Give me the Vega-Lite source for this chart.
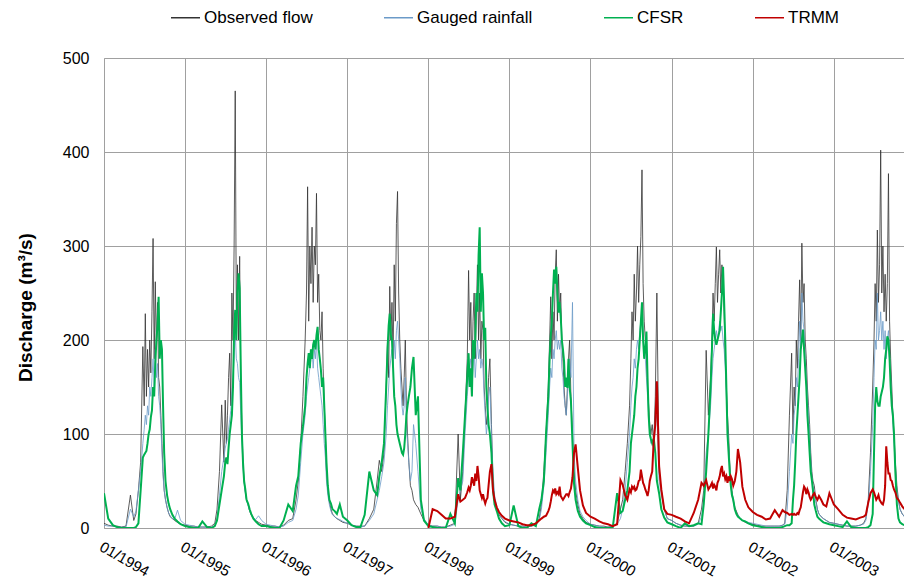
{
"$schema": "https://vega.github.io/schema/vega-lite/v6.json",
"width": 800, "height": 470,
"autosize": {"type": "none"},
"padding": {"left": 104, "top": 58, "right": 0, "bottom": 55},
"background": "white",
"config": {"view": {"stroke": null}, "font": "Liberation Sans"},
"data": {"values": [
{"d":"1994-01-01","o":5,"g":3,"c":37,"t":null},{"d":"1994-01-20","o":3,"g":2,"c":10,"t":null},{"d":"1994-02-10","o":2,"g":2,"c":3,"t":null},{"d":"1994-03-01","o":2,"g":1,"c":1,"t":null},{"d":"1994-03-20","o":1,"g":1,"c":0,"t":null},{"d":"1994-04-10","o":2,"g":1,"c":0,"t":null},{"d":"1994-04-30","o":35,"g":20,"c":0,"t":null},{"d":"1994-05-15","o":8,"g":12,"c":0,"t":null},{"d":"1994-05-25","o":15,"g":18,"c":1,"t":null},{"d":"1994-06-05","o":40,"g":40,"c":5,"t":null},{"d":"1994-06-15","o":70,"g":60,"c":40,"t":null},{"d":"1994-06-25","o":193,"g":90,"c":75,"t":null},{"d":"1994-07-01","o":130,"g":105,"c":78,"t":null},{"d":"1994-07-06","o":228,"g":120,"c":80,"t":null},{"d":"1994-07-11","o":140,"g":110,"c":82,"t":null},{"d":"1994-07-16","o":190,"g":130,"c":90,"t":null},{"d":"1994-07-21","o":150,"g":120,"c":100,"t":null},{"d":"1994-07-26","o":200,"g":150,"c":105,"t":null},{"d":"1994-07-31","o":165,"g":140,"c":118,"t":null},{"d":"1994-08-05","o":230,"g":160,"c":125,"t":null},{"d":"1994-08-10","o":308,"g":180,"c":150,"t":null},{"d":"1994-08-15","o":180,"g":150,"c":140,"t":null},{"d":"1994-08-20","o":262,"g":190,"c":175,"t":null},{"d":"1994-08-25","o":190,"g":160,"c":200,"t":null},{"d":"1994-08-30","o":240,"g":175,"c":215,"t":null},{"d":"1994-09-04","o":160,"g":140,"c":246,"t":null},{"d":"1994-09-09","o":150,"g":130,"c":180,"t":null},{"d":"1994-09-14","o":120,"g":110,"c":200,"t":null},{"d":"1994-09-19","o":90,"g":80,"c":190,"t":null},{"d":"1994-09-24","o":60,"g":55,"c":130,"t":null},{"d":"1994-09-29","o":40,"g":40,"c":80,"t":null},{"d":"1994-10-05","o":30,"g":30,"c":50,"t":null},{"d":"1994-10-12","o":22,"g":22,"c":35,"t":null},{"d":"1994-10-19","o":16,"g":16,"c":26,"t":null},{"d":"1994-10-26","o":12,"g":13,"c":20,"t":null},{"d":"1994-11-05","o":10,"g":10,"c":14,"t":null},{"d":"1994-11-15","o":8,"g":9,"c":10,"t":null},{"d":"1994-11-28","o":6,"g":19,"c":7,"t":null},{"d":"1994-12-12","o":4,"g":8,"c":4,"t":null},
{"d":"1995-01-01","o":3,"g":4,"c":2,"t":null},{"d":"1995-01-20","o":2,"g":3,"c":1,"t":null},{"d":"1995-02-10","o":2,"g":2,"c":0,"t":null},{"d":"1995-03-01","o":1,"g":1,"c":0,"t":null},{"d":"1995-03-20","o":1,"g":1,"c":7,"t":null},{"d":"1995-04-10","o":1,"g":1,"c":1,"t":null},{"d":"1995-04-30","o":2,"g":1,"c":0,"t":null},{"d":"1995-05-15","o":5,"g":3,"c":2,"t":null},{"d":"1995-05-25","o":20,"g":10,"c":8,"t":null},{"d":"1995-06-05","o":60,"g":35,"c":25,"t":null},{"d":"1995-06-15","o":131,"g":60,"c":40,"t":null},{"d":"1995-06-25","o":70,"g":75,"c":55,"t":null},{"d":"1995-07-01","o":136,"g":85,"c":70,"t":null},{"d":"1995-07-06","o":90,"g":90,"c":75,"t":null},{"d":"1995-07-11","o":120,"g":95,"c":68,"t":null},{"d":"1995-07-16","o":160,"g":105,"c":85,"t":null},{"d":"1995-07-21","o":186,"g":115,"c":100,"t":null},{"d":"1995-07-26","o":130,"g":125,"c":110,"t":null},{"d":"1995-07-31","o":250,"g":145,"c":120,"t":null},{"d":"1995-08-05","o":200,"g":160,"c":150,"t":null},{"d":"1995-08-10","o":300,"g":180,"c":210,"t":null},{"d":"1995-08-15","o":465,"g":210,"c":232,"t":null},{"d":"1995-08-20","o":220,"g":180,"c":200,"t":null},{"d":"1995-08-25","o":280,"g":175,"c":250,"t":null},{"d":"1995-08-30","o":200,"g":160,"c":271,"t":null},{"d":"1995-09-04","o":289,"g":155,"c":255,"t":null},{"d":"1995-09-09","o":150,"g":120,"c":170,"t":null},{"d":"1995-09-14","o":110,"g":95,"c":100,"t":null},{"d":"1995-09-19","o":70,"g":65,"c":70,"t":null},{"d":"1995-09-24","o":50,"g":48,"c":50,"t":null},{"d":"1995-09-29","o":40,"g":38,"c":42,"t":null},{"d":"1995-10-05","o":30,"g":30,"c":30,"t":null},{"d":"1995-10-12","o":25,"g":24,"c":26,"t":null},{"d":"1995-10-19","o":18,"g":18,"c":20,"t":null},{"d":"1995-10-26","o":14,"g":15,"c":15,"t":null},{"d":"1995-11-05","o":10,"g":11,"c":10,"t":null},{"d":"1995-11-15","o":8,"g":9,"c":7,"t":null},{"d":"1995-11-28","o":6,"g":13,"c":4,"t":null},{"d":"1995-12-12","o":4,"g":8,"c":2,"t":null},
{"d":"1996-01-01","o":3,"g":4,"c":2,"t":null},{"d":"1996-01-20","o":2,"g":3,"c":1,"t":null},{"d":"1996-02-10","o":2,"g":2,"c":0,"t":null},{"d":"1996-03-01","o":1,"g":1,"c":0,"t":null},{"d":"1996-03-20","o":3,"g":2,"c":8,"t":null},{"d":"1996-04-10","o":8,"g":6,"c":25,"t":null},{"d":"1996-04-30","o":10,"g":8,"c":18,"t":null},{"d":"1996-05-15","o":30,"g":20,"c":45,"t":null},{"d":"1996-05-25","o":50,"g":35,"c":55,"t":null},{"d":"1996-06-05","o":90,"g":70,"c":90,"t":null},{"d":"1996-06-15","o":140,"g":100,"c":108,"t":null},{"d":"1996-06-25","o":200,"g":120,"c":130,"t":null},{"d":"1996-07-01","o":250,"g":140,"c":160,"t":null},{"d":"1996-07-06","o":363,"g":150,"c":175,"t":null},{"d":"1996-07-11","o":220,"g":160,"c":186,"t":null},{"d":"1996-07-16","o":300,"g":170,"c":170,"t":null},{"d":"1996-07-21","o":260,"g":180,"c":190,"t":null},{"d":"1996-07-26","o":320,"g":190,"c":180,"t":null},{"d":"1996-07-31","o":240,"g":170,"c":195,"t":null},{"d":"1996-08-05","o":300,"g":190,"c":200,"t":null},{"d":"1996-08-10","o":280,"g":180,"c":190,"t":null},{"d":"1996-08-15","o":356,"g":200,"c":205,"t":null},{"d":"1996-08-20","o":240,"g":170,"c":214,"t":null},{"d":"1996-08-25","o":270,"g":160,"c":190,"t":null},{"d":"1996-08-30","o":210,"g":150,"c":180,"t":null},{"d":"1996-09-04","o":200,"g":140,"c":168,"t":null},{"d":"1996-09-09","o":230,"g":130,"c":150,"t":null},{"d":"1996-09-14","o":170,"g":110,"c":160,"t":null},{"d":"1996-09-19","o":130,"g":90,"c":130,"t":null},{"d":"1996-09-24","o":100,"g":75,"c":100,"t":null},{"d":"1996-09-29","o":60,"g":50,"c":70,"t":null},{"d":"1996-10-05","o":40,"g":35,"c":45,"t":null},{"d":"1996-10-12","o":28,"g":25,"c":30,"t":null},{"d":"1996-10-19","o":20,"g":18,"c":26,"t":null},{"d":"1996-10-26","o":15,"g":14,"c":20,"t":null},{"d":"1996-11-05","o":12,"g":12,"c":18,"t":null},{"d":"1996-11-15","o":10,"g":10,"c":15,"t":null},{"d":"1996-11-28","o":8,"g":9,"c":25,"t":null},{"d":"1996-12-12","o":6,"g":7,"c":12,"t":null},
{"d":"1997-01-01","o":5,"g":5,"c":8,"t":null},{"d":"1997-01-20","o":3,"g":3,"c":3,"t":null},{"d":"1997-02-10","o":2,"g":2,"c":1,"t":null},{"d":"1997-03-01","o":2,"g":1,"c":1,"t":null},{"d":"1997-03-20","o":2,"g":2,"c":14,"t":null},{"d":"1997-04-10","o":10,"g":8,"c":60,"t":null},{"d":"1997-04-30","o":20,"g":15,"c":40,"t":null},{"d":"1997-05-15","o":50,"g":30,"c":35,"t":null},{"d":"1997-05-25","o":72,"g":40,"c":55,"t":null},{"d":"1997-06-05","o":60,"g":55,"c":70,"t":null},{"d":"1997-06-15","o":80,"g":70,"c":90,"t":null},{"d":"1997-06-25","o":150,"g":100,"c":150,"t":null},{"d":"1997-07-01","o":200,"g":130,"c":190,"t":null},{"d":"1997-07-06","o":160,"g":150,"c":215,"t":null},{"d":"1997-07-11","o":257,"g":170,"c":228,"t":null},{"d":"1997-07-16","o":200,"g":180,"c":205,"t":null},{"d":"1997-07-21","o":240,"g":190,"c":200,"t":null},{"d":"1997-07-26","o":180,"g":170,"c":170,"t":null},{"d":"1997-07-31","o":280,"g":200,"c":140,"t":null},{"d":"1997-08-05","o":220,"g":180,"c":130,"t":null},{"d":"1997-08-10","o":324,"g":210,"c":110,"t":null},{"d":"1997-08-15","o":358,"g":220,"c":100,"t":null},{"d":"1997-08-20","o":250,"g":200,"c":95,"t":null},{"d":"1997-08-25","o":200,"g":180,"c":90,"t":null},{"d":"1997-08-30","o":170,"g":150,"c":85,"t":null},{"d":"1997-09-04","o":150,"g":130,"c":80,"t":null},{"d":"1997-09-09","o":130,"g":120,"c":78,"t":null},{"d":"1997-09-14","o":160,"g":130,"c":85,"t":null},{"d":"1997-09-19","o":200,"g":160,"c":100,"t":null},{"d":"1997-09-24","o":130,"g":110,"c":120,"t":null},{"d":"1997-09-29","o":100,"g":90,"c":130,"t":null},{"d":"1997-10-05","o":70,"g":70,"c":140,"t":null},{"d":"1997-10-12","o":45,"g":50,"c":150,"t":null},{"d":"1997-10-19","o":40,"g":60,"c":170,"t":null},{"d":"1997-10-26","o":30,"g":110,"c":182,"t":null},{"d":"1997-11-05","o":25,"g":90,"c":120,"t":null},{"d":"1997-11-15","o":22,"g":60,"c":140,"t":null},{"d":"1997-11-28","o":15,"g":20,"c":30,"t":null},{"d":"1997-12-12","o":8,"g":10,"c":8,"t":null},
{"d":"1998-01-01","o":3,"g":3,"c":2,"t":0},{"d":"1998-01-20","o":2,"g":2,"c":1,"t":20},{"d":"1998-02-10","o":2,"g":2,"c":0,"t":18},{"d":"1998-03-01","o":1,"g":1,"c":0,"t":14},{"d":"1998-03-20","o":1,"g":1,"c":0,"t":10},{"d":"1998-04-10","o":3,"g":2,"c":15,"t":10},{"d":"1998-04-30","o":5,"g":4,"c":5,"t":12},{"d":"1998-05-15","o":100,"g":30,"c":53,"t":36},{"d":"1998-05-25","o":30,"g":40,"c":40,"t":28},{"d":"1998-06-05","o":60,"g":50,"c":80,"t":30},{"d":"1998-06-15","o":120,"g":100,"c":120,"t":32},{"d":"1998-06-25","o":180,"g":140,"c":160,"t":38},{"d":"1998-07-01","o":274,"g":160,"c":186,"t":43},{"d":"1998-07-06","o":200,"g":170,"c":150,"t":40},{"d":"1998-07-11","o":240,"g":180,"c":170,"t":45},{"d":"1998-07-16","o":160,"g":150,"c":140,"t":54},{"d":"1998-07-21","o":220,"g":170,"c":200,"t":50},{"d":"1998-07-26","o":250,"g":190,"c":180,"t":45},{"d":"1998-07-31","o":180,"g":160,"c":200,"t":58},{"d":"1998-08-05","o":230,"g":180,"c":250,"t":50},{"d":"1998-08-10","o":280,"g":200,"c":230,"t":66},{"d":"1998-08-15","o":200,"g":180,"c":290,"t":55},{"d":"1998-08-20","o":250,"g":190,"c":320,"t":40},{"d":"1998-08-25","o":180,"g":170,"c":230,"t":36},{"d":"1998-08-30","o":220,"g":180,"c":271,"t":32},{"d":"1998-09-04","o":210,"g":170,"c":250,"t":36},{"d":"1998-09-09","o":150,"g":140,"c":200,"t":30},{"d":"1998-09-14","o":130,"g":120,"c":213,"t":26},{"d":"1998-09-19","o":110,"g":100,"c":150,"t":30},{"d":"1998-09-24","o":120,"g":110,"c":128,"t":32},{"d":"1998-09-29","o":160,"g":140,"c":110,"t":45},{"d":"1998-10-05","o":180,"g":150,"c":100,"t":60},{"d":"1998-10-12","o":110,"g":100,"c":80,"t":68},{"d":"1998-10-19","o":50,"g":60,"c":40,"t":40},{"d":"1998-10-26","o":30,"g":35,"c":25,"t":30},{"d":"1998-11-05","o":20,"g":22,"c":18,"t":22},{"d":"1998-11-15","o":14,"g":15,"c":10,"t":17},{"d":"1998-11-28","o":10,"g":10,"c":5,"t":13},{"d":"1998-12-12","o":6,"g":7,"c":2,"t":10},
{"d":"1999-01-01","o":4,"g":4,"c":3,"t":8},{"d":"1999-01-20","o":3,"g":3,"c":24,"t":7},{"d":"1999-02-10","o":2,"g":2,"c":2,"t":6},{"d":"1999-03-01","o":2,"g":2,"c":0,"t":4},{"d":"1999-03-20","o":1,"g":1,"c":0,"t":3},{"d":"1999-04-10","o":2,"g":2,"c":5,"t":3},{"d":"1999-04-30","o":4,"g":3,"c":2,"t":5},{"d":"1999-05-15","o":10,"g":8,"c":20,"t":8},{"d":"1999-05-25","o":25,"g":20,"c":30,"t":10},{"d":"1999-06-05","o":60,"g":45,"c":50,"t":12},{"d":"1999-06-15","o":100,"g":80,"c":101,"t":13},{"d":"1999-06-25","o":150,"g":120,"c":140,"t":18},{"d":"1999-07-01","o":200,"g":150,"c":180,"t":22},{"d":"1999-07-06","o":246,"g":170,"c":204,"t":28},{"d":"1999-07-11","o":180,"g":160,"c":220,"t":35},{"d":"1999-07-16","o":230,"g":190,"c":250,"t":40},{"d":"1999-07-21","o":200,"g":180,"c":275,"t":38},{"d":"1999-07-26","o":270,"g":200,"c":260,"t":42},{"d":"1999-07-31","o":296,"g":210,"c":278,"t":36},{"d":"1999-08-05","o":220,"g":190,"c":250,"t":38},{"d":"1999-08-10","o":270,"g":200,"c":229,"t":36},{"d":"1999-08-15","o":230,"g":190,"c":240,"t":44},{"d":"1999-08-20","o":250,"g":200,"c":225,"t":34},{"d":"1999-08-25","o":200,"g":170,"c":200,"t":32},{"d":"1999-08-30","o":180,"g":160,"c":190,"t":30},{"d":"1999-09-04","o":150,"g":140,"c":177,"t":32},{"d":"1999-09-09","o":130,"g":130,"c":150,"t":34},{"d":"1999-09-14","o":120,"g":120,"c":160,"t":36},{"d":"1999-09-19","o":150,"g":140,"c":149,"t":36},{"d":"1999-09-24","o":180,"g":160,"c":180,"t":34},{"d":"1999-09-29","o":200,"g":180,"c":150,"t":38},{"d":"1999-10-05","o":140,"g":160,"c":135,"t":42},{"d":"1999-10-12","o":100,"g":240,"c":90,"t":54},{"d":"1999-10-19","o":60,"g":80,"c":47,"t":80},{"d":"1999-10-26","o":40,"g":50,"c":30,"t":89},{"d":"1999-11-05","o":25,"g":30,"c":18,"t":64},{"d":"1999-11-15","o":15,"g":18,"c":12,"t":40},{"d":"1999-11-28","o":10,"g":12,"c":8,"t":24},{"d":"1999-12-12","o":6,"g":8,"c":5,"t":16},
{"d":"2000-01-01","o":4,"g":4,"c":3,"t":12},{"d":"2000-01-20","o":3,"g":3,"c":1,"t":10},{"d":"2000-02-10","o":2,"g":2,"c":0,"t":7},{"d":"2000-03-01","o":2,"g":1,"c":0,"t":5},{"d":"2000-03-20","o":1,"g":1,"c":0,"t":4},{"d":"2000-04-10","o":2,"g":2,"c":0,"t":2},{"d":"2000-04-30","o":5,"g":4,"c":37,"t":4},{"d":"2000-05-15","o":20,"g":10,"c":16,"t":51},{"d":"2000-05-25","o":30,"g":20,"c":18,"t":46},{"d":"2000-06-05","o":60,"g":40,"c":30,"t":35},{"d":"2000-06-15","o":90,"g":70,"c":40,"t":30},{"d":"2000-06-25","o":130,"g":100,"c":60,"t":41},{"d":"2000-07-01","o":180,"g":130,"c":90,"t":38},{"d":"2000-07-06","o":230,"g":150,"c":100,"t":44},{"d":"2000-07-11","o":200,"g":160,"c":110,"t":42},{"d":"2000-07-16","o":270,"g":180,"c":120,"t":44},{"d":"2000-07-21","o":220,"g":170,"c":140,"t":40},{"d":"2000-07-26","o":250,"g":190,"c":150,"t":41},{"d":"2000-07-31","o":300,"g":200,"c":170,"t":45},{"d":"2000-08-05","o":240,"g":190,"c":180,"t":50},{"d":"2000-08-10","o":280,"g":210,"c":200,"t":51},{"d":"2000-08-15","o":310,"g":220,"c":220,"t":62},{"d":"2000-08-20","o":381,"g":230,"c":240,"t":55},{"d":"2000-08-25","o":260,"g":200,"c":200,"t":48},{"d":"2000-08-30","o":220,"g":190,"c":180,"t":45},{"d":"2000-09-04","o":200,"g":180,"c":190,"t":41},{"d":"2000-09-09","o":180,"g":160,"c":209,"t":38},{"d":"2000-09-14","o":150,"g":140,"c":160,"t":34},{"d":"2000-09-19","o":130,"g":120,"c":120,"t":40},{"d":"2000-09-24","o":110,"g":100,"c":100,"t":50},{"d":"2000-09-29","o":100,"g":90,"c":95,"t":55},{"d":"2000-10-05","o":110,"g":95,"c":90,"t":60},{"d":"2000-10-12","o":90,"g":80,"c":95,"t":94},{"d":"2000-10-19","o":140,"g":110,"c":80,"t":110},{"d":"2000-10-26","o":250,"g":120,"c":50,"t":156},{"d":"2000-11-05","o":60,"g":50,"c":37,"t":66},{"d":"2000-11-15","o":40,"g":35,"c":20,"t":41},{"d":"2000-11-28","o":20,"g":20,"c":11,"t":20},{"d":"2000-12-12","o":10,"g":10,"c":6,"t":15},
{"d":"2001-01-01","o":8,"g":8,"c":4,"t":14},{"d":"2001-01-20","o":5,"g":5,"c":2,"t":12},{"d":"2001-02-10","o":3,"g":3,"c":0,"t":10},{"d":"2001-03-01","o":2,"g":2,"c":5,"t":7},{"d":"2001-03-20","o":2,"g":2,"c":2,"t":5},{"d":"2001-04-10","o":2,"g":2,"c":3,"t":16},{"d":"2001-04-30","o":5,"g":4,"c":5,"t":30},{"d":"2001-05-15","o":20,"g":12,"c":4,"t":48},{"d":"2001-05-25","o":40,"g":30,"c":25,"t":45},{"d":"2001-06-05","o":189,"g":80,"c":60,"t":51},{"d":"2001-06-15","o":120,"g":100,"c":100,"t":41},{"d":"2001-06-25","o":160,"g":130,"c":150,"t":45},{"d":"2001-07-01","o":200,"g":160,"c":190,"t":48},{"d":"2001-07-06","o":250,"g":180,"c":228,"t":42},{"d":"2001-07-11","o":220,"g":190,"c":210,"t":46},{"d":"2001-07-16","o":260,"g":200,"c":200,"t":44},{"d":"2001-07-21","o":299,"g":210,"c":195,"t":40},{"d":"2001-07-26","o":240,"g":200,"c":200,"t":48},{"d":"2001-07-31","o":270,"g":210,"c":205,"t":51},{"d":"2001-08-05","o":296,"g":220,"c":210,"t":55},{"d":"2001-08-10","o":250,"g":210,"c":230,"t":62},{"d":"2001-08-15","o":280,"g":215,"c":250,"t":66},{"d":"2001-08-20","o":260,"g":200,"c":278,"t":55},{"d":"2001-08-25","o":230,"g":190,"c":240,"t":58},{"d":"2001-08-30","o":180,"g":170,"c":200,"t":52},{"d":"2001-09-04","o":150,"g":140,"c":150,"t":55},{"d":"2001-09-09","o":120,"g":110,"c":100,"t":48},{"d":"2001-09-14","o":100,"g":90,"c":80,"t":55},{"d":"2001-09-19","o":70,"g":65,"c":60,"t":50},{"d":"2001-09-24","o":50,"g":45,"c":45,"t":55},{"d":"2001-09-29","o":40,"g":35,"c":35,"t":52},{"d":"2001-10-05","o":30,"g":28,"c":30,"t":45},{"d":"2001-10-12","o":22,"g":20,"c":20,"t":50},{"d":"2001-10-19","o":18,"g":16,"c":15,"t":60},{"d":"2001-10-26","o":14,"g":14,"c":12,"t":84},{"d":"2001-11-05","o":10,"g":10,"c":10,"t":70},{"d":"2001-11-15","o":8,"g":8,"c":8,"t":44},{"d":"2001-11-28","o":6,"g":7,"c":7,"t":30},{"d":"2001-12-12","o":5,"g":6,"c":5,"t":22},
{"d":"2002-01-01","o":4,"g":5,"c":3,"t":17},{"d":"2002-01-20","o":3,"g":4,"c":2,"t":14},{"d":"2002-02-10","o":2,"g":3,"c":1,"t":12},{"d":"2002-03-01","o":2,"g":2,"c":0,"t":9},{"d":"2002-03-20","o":2,"g":2,"c":0,"t":10},{"d":"2002-04-10","o":2,"g":2,"c":0,"t":19},{"d":"2002-04-30","o":2,"g":2,"c":0,"t":12},{"d":"2002-05-15","o":3,"g":3,"c":1,"t":19},{"d":"2002-05-25","o":5,"g":4,"c":2,"t":17},{"d":"2002-06-05","o":40,"g":20,"c":3,"t":16},{"d":"2002-06-15","o":120,"g":60,"c":3,"t":14},{"d":"2002-06-25","o":186,"g":100,"c":5,"t":15},{"d":"2002-07-01","o":100,"g":90,"c":30,"t":14},{"d":"2002-07-06","o":150,"g":120,"c":45,"t":15},{"d":"2002-07-11","o":130,"g":130,"c":70,"t":14},{"d":"2002-07-16","o":200,"g":160,"c":100,"t":14},{"d":"2002-07-21","o":170,"g":150,"c":120,"t":16},{"d":"2002-07-26","o":220,"g":180,"c":140,"t":15},{"d":"2002-07-31","o":264,"g":220,"c":160,"t":19},{"d":"2002-08-05","o":200,"g":190,"c":190,"t":22},{"d":"2002-08-10","o":303,"g":250,"c":200,"t":30},{"d":"2002-08-15","o":240,"g":220,"c":211,"t":38},{"d":"2002-08-20","o":260,"g":210,"c":190,"t":44},{"d":"2002-08-25","o":200,"g":180,"c":170,"t":42},{"d":"2002-08-30","o":180,"g":160,"c":150,"t":36},{"d":"2002-09-04","o":150,"g":140,"c":120,"t":41},{"d":"2002-09-09","o":130,"g":120,"c":101,"t":38},{"d":"2002-09-14","o":110,"g":100,"c":80,"t":33},{"d":"2002-09-19","o":80,"g":75,"c":60,"t":30},{"d":"2002-09-24","o":60,"g":55,"c":51,"t":32},{"d":"2002-09-29","o":50,"g":45,"c":40,"t":35},{"d":"2002-10-05","o":45,"g":38,"c":25,"t":37},{"d":"2002-10-12","o":30,"g":28,"c":18,"t":33},{"d":"2002-10-19","o":20,"g":20,"c":12,"t":30},{"d":"2002-10-26","o":15,"g":15,"c":10,"t":34},{"d":"2002-11-05","o":12,"g":12,"c":8,"t":30},{"d":"2002-11-15","o":10,"g":10,"c":6,"t":25},{"d":"2002-11-28","o":8,"g":8,"c":5,"t":23},{"d":"2002-12-12","o":6,"g":6,"c":4,"t":37},
{"d":"2003-01-01","o":5,"g":5,"c":3,"t":25},{"d":"2003-01-20","o":4,"g":4,"c":2,"t":20},{"d":"2003-02-10","o":3,"g":3,"c":1,"t":14},{"d":"2003-03-01","o":2,"g":2,"c":7,"t":11},{"d":"2003-03-20","o":2,"g":2,"c":1,"t":10},{"d":"2003-04-10","o":2,"g":2,"c":0,"t":9},{"d":"2003-04-30","o":3,"g":3,"c":0,"t":11},{"d":"2003-05-15","o":5,"g":4,"c":0,"t":12},{"d":"2003-05-25","o":10,"g":8,"c":0,"t":14},{"d":"2003-06-05","o":30,"g":25,"c":1,"t":27},{"d":"2003-06-15","o":80,"g":60,"c":3,"t":37},{"d":"2003-06-25","o":150,"g":110,"c":15,"t":41},{"d":"2003-07-01","o":200,"g":160,"c":80,"t":38},{"d":"2003-07-06","o":260,"g":200,"c":130,"t":34},{"d":"2003-07-11","o":220,"g":190,"c":150,"t":30},{"d":"2003-07-16","o":317,"g":250,"c":135,"t":32},{"d":"2003-07-21","o":240,"g":200,"c":130,"t":35},{"d":"2003-07-26","o":280,"g":210,"c":130,"t":30},{"d":"2003-07-31","o":402,"g":230,"c":140,"t":28},{"d":"2003-08-05","o":250,"g":200,"c":145,"t":26},{"d":"2003-08-10","o":300,"g":220,"c":150,"t":25},{"d":"2003-08-15","o":230,"g":190,"c":160,"t":30},{"d":"2003-08-20","o":270,"g":210,"c":180,"t":45},{"d":"2003-08-25","o":220,"g":180,"c":190,"t":87},{"d":"2003-08-30","o":260,"g":200,"c":204,"t":70},{"d":"2003-09-04","o":377,"g":210,"c":200,"t":58},{"d":"2003-09-09","o":220,"g":180,"c":180,"t":58},{"d":"2003-09-14","o":180,"g":160,"c":150,"t":51},{"d":"2003-09-19","o":150,"g":130,"c":130,"t":50},{"d":"2003-09-24","o":120,"g":110,"c":120,"t":45},{"d":"2003-09-29","o":100,"g":90,"c":100,"t":41},{"d":"2003-10-05","o":70,"g":65,"c":60,"t":38},{"d":"2003-10-12","o":45,"g":40,"c":25,"t":32},{"d":"2003-10-19","o":30,"g":28,"c":10,"t":30},{"d":"2003-10-26","o":20,"g":20,"c":6,"t":27},{"d":"2003-11-05","o":15,"g":15,"c":4,"t":23},{"d":"2003-11-15","o":12,"g":12,"c":3,"t":20}
]},
"encoding": {
  "x": {"field": "d", "type": "temporal",
    "scale": {"type": "utc", "domain": [{"year": 1994, "month": 1, "date": 1, "utc": true}, {"year": 2003, "month": 11, "date": 13, "utc": true}]},
    "axis": {"title": null, "labelExpr": "utcFormat(datum.value, '%m/%Y')",
      "values": [{"year":1994,"month":1,"date":1,"utc":true},{"year":1995,"month":1,"date":1,"utc":true},{"year":1996,"month":1,"date":1,"utc":true},{"year":1997,"month":1,"date":1,"utc":true},{"year":1998,"month":1,"date":1,"utc":true},{"year":1999,"month":1,"date":1,"utc":true},{"year":2000,"month":1,"date":1,"utc":true},{"year":2001,"month":1,"date":1,"utc":true},{"year":2002,"month":1,"date":1,"utc":true},{"year":2003,"month":1,"date":1,"utc":true}],
      "labelAngle": 30, "labelAlign": "left", "labelBaseline": "top", "labelPadding": 11,
      "labelFontSize": 15, "labelColor": "black", "labelOverlap": false, "labelBound": false, "labelFlush": false,
      "ticks": false, "grid": true, "gridColor": "#a0a0a0", "gridWidth": 1, "domainColor": "#a0a0a0", "domainWidth": 1}
  }
},
"layer": [
  {"mark": {"type": "line", "strokeWidth": 0.8, "clip": true},
   "encoding": {
     "y": {"field": "o", "type": "quantitative", "title": "Discharge (m³/s)",
       "scale": {"domain": [0, 500]},
       "axis": {"values": [0,100,200,300,400,500], "ticks": false, "labelPadding": 15, "labelFontSize": 16, "labelColor": "black",
         "grid": true, "gridColor": "#a0a0a0", "gridWidth": 1, "domainColor": "#a0a0a0",
         "titleFontSize": 19, "titleFontWeight": "bold", "titleColor": "black",
         "titleX": -79, "titleY": 249, "titleAlign": "center", "titleBaseline": "middle", "titleAngle": -90}},
     "color": {"datum": "Observed flow",
       "scale": {"domain": ["Observed flow", "Gauged rainfall", "CFSR", "TRMM"], "range": ["#333333", "#6b9ac8", "#00b050", "#c00000"]},
       "legend": {"orient": "none", "legendX": 66, "legendY": -56, "direction": "horizontal", "title": null,
         "labelFontSize": 17, "labelColor": "black", "symbolType": "stroke", "symbolSize": 841, "symbolStrokeWidth": 1.5,
         "columnPadding": 68, "labelOffset": 3}}
   }},
  {"mark": {"type": "line", "strokeWidth": 0.8, "clip": true},
   "encoding": {"y": {"field": "g", "type": "quantitative", "title": "Discharge (m³/s)"}, "color": {"datum": "Gauged rainfall"}}},
  {"mark": {"type": "line", "strokeWidth": 2, "clip": true},
   "encoding": {"y": {"field": "c", "type": "quantitative", "title": "Discharge (m³/s)"}, "color": {"datum": "CFSR"}}},
  {"mark": {"type": "line", "strokeWidth": 2, "clip": true},
   "encoding": {"y": {"field": "t", "type": "quantitative", "title": "Discharge (m³/s)"}, "color": {"datum": "TRMM"}}}
]
}
